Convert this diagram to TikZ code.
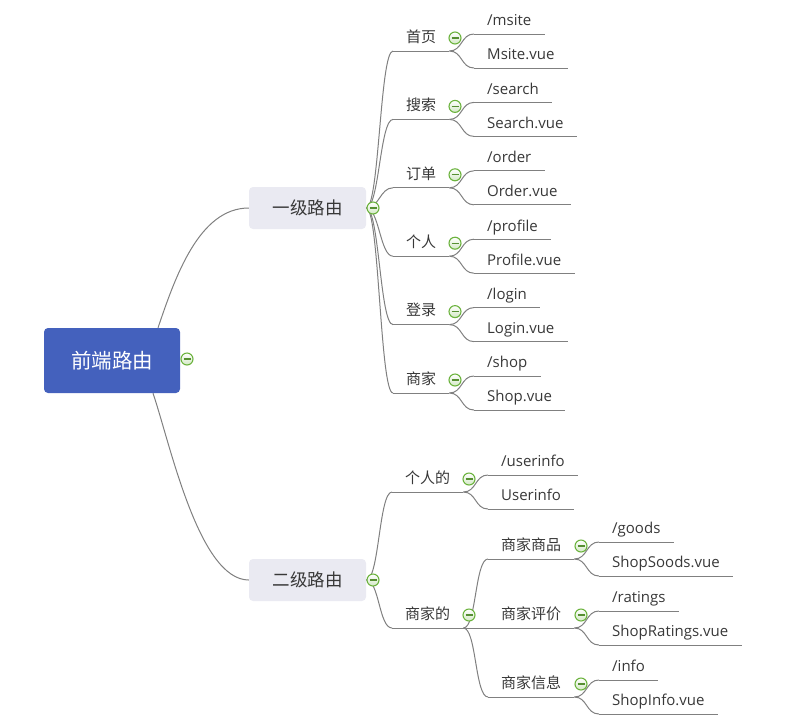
\documentclass[tikz,border=0pt]{standalone}
\usepackage{fontspec}
\setmainfont{Open Sans}
\newfontfamily\cjk{Noto Sans CJK SC}
\definecolor{rootblue}{HTML}{4461BD}
\definecolor{topicgray}{HTML}{EAEAF2}
\definecolor{linegray}{HTML}{808080}
\definecolor{foldgreen}{HTML}{6CB33E}
\definecolor{textgray}{HTML}{383838}
\tikzset{
root/.style={
  fill=rootblue,
  rounded corners=4pt,
  minimum width=136pt,
  minimum height=65pt,
  text=white,
  font=\cjk\fontsize{20.5}{24}\selectfont
  }
}
\tikzset{
topic/.style={
  fill=topicgray,
  rounded corners=4pt,
  minimum width=117pt,
  minimum height=42pt,
  text=textgray,
  font=\cjk\fontsize{17.5}{21}\selectfont
  }
}
\tikzset{
sub/.style={
  anchor=south west,
  inner xsep=13pt,
  inner ysep=5.5pt,
  text depth=3pt,
  text=textgray,
  font=\cjk\fontsize{15}{18}\selectfont,
  ul
  },
leaf/.style={
  anchor=south west,
  inner xsep=13pt,
  inner ysep=5pt,
  text depth=3pt,
  text=textgray,
  font=\fontsize{15}{18}\selectfont,
  ul
  },
ul/.style={
  append after command={(\tikzlastnode.south west) edge[uline] (\tikzlastnode.south east)}
  }
}
\tikzset{
fold/.style={
  circle,
  draw=foldgreen,
  line width=1.1pt,
  top color=white,
  bottom color=foldgreen!30,
  minimum size=12pt,
  inner sep=0pt,
  path picture={\draw[foldgreen!80!black, line width=1.3pt]
    ([xshift=-3.5pt]path picture bounding box.center) -- ([xshift=3.5pt]path picture bounding box.center);}
  }
}
\tikzstyle{uline} = [draw,linegray,line width=1pt]
\tikzstyle{link} = [draw,linegray,line width=1pt,to path={.. controls +(13,0) and +(-13,0) .. (\tikztotarget)}]
\tikzset{%
    boundingBox/.style={use as bounding box},
    }

\begin{document}
\begin{tikzpicture}[x=1pt, y=-1pt]
        \path[boundingBox] (0,0) rectangle (789,724);
	\pgfdeclarelayer{background}
	\pgfsetlayers{background,main}

	\begin{pgfonlayer}{main}
		%vertices
		\node (vroot) at (112,360.5) [root] {前端路由};
		\node (froot) at (187,359) [fold] {};

		\node (v1) at (307.5,208) [topic] {一级路由};
		\node (f1) at (373,208) [fold] {};
		\node (v2) at (307.5,580) [topic] {二级路由};
		\node (f2) at (373,580) [fold] {};

		\node (b11) at (393,51) [sub] {首页};
		\node (b12) at (393,119.4) [sub] {搜索};
		\node (b13) at (393,187.8) [sub] {订单};
		\node (b14) at (393,256.2) [sub] {个人};
		\node (b15) at (393,324.6) [sub] {登录};
		\node (b16) at (393,393) [sub] {商家};
		\node (fb11) at (455,38) [fold] {};
		\node (fb12) at (455,106.4) [fold] {};
		\node (fb13) at (455,174.8) [fold] {};
		\node (fb14) at (455,243.2) [fold] {};
		\node (fb15) at (455,311.6) [fold] {};
		\node (fb16) at (455,380) [fold] {};

		\node (l11a) at (474,34) [leaf] {/msite};
		\node (l11b) at (474,68) [leaf] {Msite.vue};
		\node (l12a) at (474,102.4) [leaf] {/search};
		\node (l12b) at (474,136.4) [leaf] {Search.vue};
		\node (l13a) at (474,170.8) [leaf] {/order};
		\node (l13b) at (474,204.8) [leaf] {Order.vue};
		\node (l14a) at (474,239.2) [leaf] {/profile};
		\node (l14b) at (474,273.2) [leaf] {Profile.vue};
		\node (l15a) at (474,307.6) [leaf] {/login};
		\node (l15b) at (474,341.6) [leaf] {Login.vue};
		\node (l16a) at (474,376) [leaf] {/shop};
		\node (l16b) at (474,410) [leaf] {Shop.vue};

		\node (b21) at (392,492) [sub] {个人的};
		\node (b22) at (392,628) [sub] {商家的};
		\node (fb21) at (469,479) [fold] {};
		\node (fb22) at (469,615) [fold] {};

		\node (l21a) at (488,475) [leaf] {/userinfo};
		\node (l21b) at (488,509) [leaf] {Userinfo};

		\node (c1) at (488,559) [sub] {商家商品};
		\node (c2) at (488,628) [sub] {商家评价};
		\node (c3) at (488,697) [sub] {商家信息};
		\node (fc1) at (581,546) [fold] {};
		\node (fc2) at (581,615) [fold] {};
		\node (fc3) at (581,684) [fold] {};

		\node (m1a) at (599,542) [leaf] {/goods};
		\node (m1b) at (599,576) [leaf] {ShopSoods.vue};
		\node (m2a) at (599,611) [leaf] {/ratings};
		\node (m2b) at (599,645) [leaf] {ShopRatings.vue};
		\node (m3a) at (599,680) [leaf] {/info};
		\node (m3b) at (599,714) [leaf] {ShopInfo.vue};
	\end{pgfonlayer}

	\begin{pgfonlayer}{background}
		%edges
		\draw[uline] ([xshift=46pt]vroot.north) .. controls +(17,-50) and +(-50,0) .. (v1.west);
		\draw[uline] ([xshift=41pt]vroot.south) .. controls +(17,50) and +(-50,0) .. (v2.west);

		\draw (v1.east) edge[link] (b11.south west);
		\draw (v1.east) edge[link] (b12.south west);
		\draw (v1.east) edge[link] (b13.south west);
		\draw (v1.east) edge[link] (b14.south west);
		\draw (v1.east) edge[link] (b15.south west);
		\draw (v1.east) edge[link] (b16.south west);

		\draw (b11.south east) edge[link] (l11a.south west);
		\draw (b11.south east) edge[link] (l11b.south west);
		\draw (b12.south east) edge[link] (l12a.south west);
		\draw (b12.south east) edge[link] (l12b.south west);
		\draw (b13.south east) edge[link] (l13a.south west);
		\draw (b13.south east) edge[link] (l13b.south west);
		\draw (b14.south east) edge[link] (l14a.south west);
		\draw (b14.south east) edge[link] (l14b.south west);
		\draw (b15.south east) edge[link] (l15a.south west);
		\draw (b15.south east) edge[link] (l15b.south west);
		\draw (b16.south east) edge[link] (l16a.south west);
		\draw (b16.south east) edge[link] (l16b.south west);

		\draw (v2.east) edge[link] (b21.south west);
		\draw (v2.east) edge[link] (b22.south west);

		\draw (b21.south east) edge[link] (l21a.south west);
		\draw (b21.south east) edge[link] (l21b.south west);

		\draw (b22.south east) edge[link] (c1.south west);
		\draw (b22.south east) edge[link] (c2.south west);
		\draw (b22.south east) edge[link] (c3.south west);

		\draw (c1.south east) edge[link] (m1a.south west);
		\draw (c1.south east) edge[link] (m1b.south west);
		\draw (c2.south east) edge[link] (m2a.south west);
		\draw (c2.south east) edge[link] (m2b.south west);
		\draw (c3.south east) edge[link] (m3a.south west);
		\draw (c3.south east) edge[link] (m3b.south west);
	\end{pgfonlayer}
\end{tikzpicture}
\end{document}
